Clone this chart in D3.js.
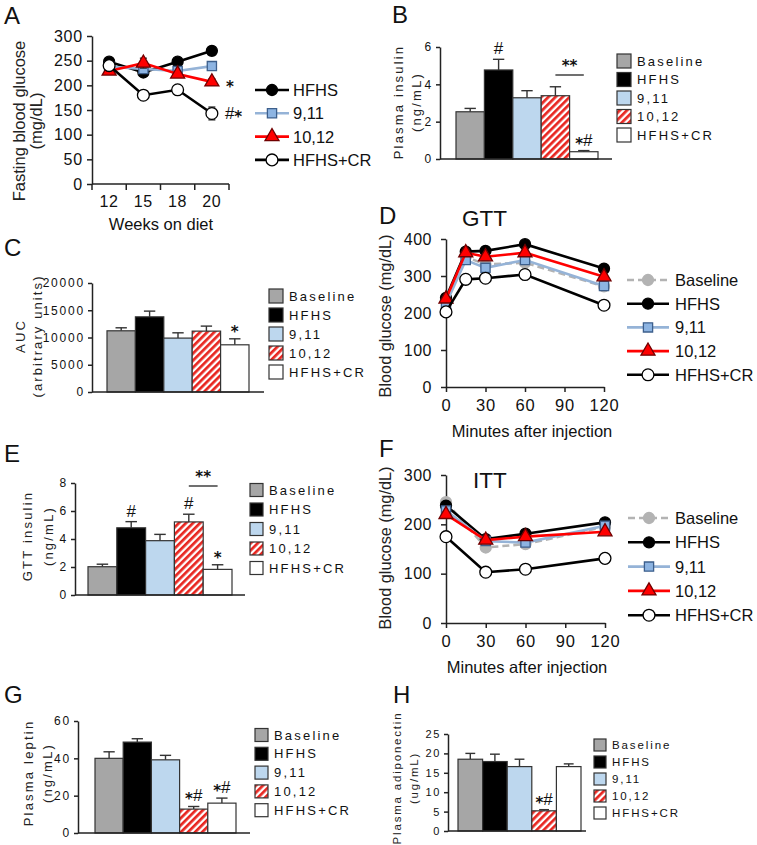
<!DOCTYPE html>
<html><head><meta charset="utf-8">
<script src="https://cdn.jsdelivr.net/npm/d3@7"></script>
<style>
body{margin:0;background:#fff;}
svg{display:block;font-family:"Liberation Sans",Arial,sans-serif;}
</style></head><body>
<svg id="c" width="757" height="845"></svg>
<script>
// ---------------- DATA ----------------
const groups = ["Baseline","HFHS","9,11","10,12","HFHS+CR"];

// Panel A: fasting blood glucose (mg/dL) by week
const weeks = ["12","15","18","20"];
const aTicks = [0,50,100,150,200,250,300];
const aHFHS = [248,226,248,270];
const aHFHSerr = [3,4,4,8];
const a911 = [238,233,229,239];
const a911err = [3,3,3,3];
const a1012 = [229,245,223,207];
const a1012err = [3,10,4,6];
const aCR = [240,180,191,143];
const aCRerr = [3,3,3,13];
const a1012notes = ["","","","*"];
const aCRnotes = ["","","","#*"];

// Panel B: plasma insulin (ng/mL)
const bTicks = [0,2,4,6];
const bMean = [2.53,4.77,3.28,3.39,0.39];
const bErr = [0.18,0.57,0.38,0.48,0.06];
const bNotes = ["","#","","","*#"];

// Panel C: GTT AUC (arbitrary units)
const cTicks = [0,5000,10000,15000,20000];
const cMean = [11230,13790,9890,11170,8660];
const cErr = [550,1050,970,920,1100];
const cNotes = ["","","","","*"];

// Panel D: GTT blood glucose (mg/dL)
const gttMinutes = [0,15,30,60,120];
const dTicksX = [0,30,60,90,120];
const dTicksY = [0,100,200,300,400];
const dBaseline = [236,352,331,336,272];
const dHFHS = [241,366,368,386,320];
const dHFHSerr = [6,8,10,8,8];
const d911 = [225,343,322,343,273];
const d911err = [5,6,8,8,6];
const d1012 = [238,363,352,363,298];
const d1012err = [5,8,8,8,6];
const dCR = [203,291,294,304,221];
const dCRerr = [5,6,8,12,5];

// Panel E: GTT insulin (ng/mL)
const eTicks = [0,2,4,6,8];
const eMean = [2.02,4.8,3.88,5.22,1.83];
const eErr = [0.18,0.44,0.45,0.55,0.33];
const eNotes = ["","#","","#","*"];

// Panel F: ITT blood glucose (mg/dL)
const ittMinutes = [0,30,60,120];
const fTicksX = [0,30,60,90,120];
const fTicksY = [0,100,200,300];
const fBaseline = [245,153,160,195];
const fHFHS = [238,170,181,204];
const fHFHSerr = [5,4,4,5];
const f911 = [228,166,163,197];
const f911err = [5,4,4,5];
const f1012 = [220,168,175,185];
const f1012err = [5,4,4,5];
const fCR = [175,103,109,131];
const fCRerr = [4,4,4,9];

// Panel G: plasma leptin (ng/mL)
const gTicks = [0,20,40,60];
const gMean = [40.0,48.7,39.2,12.8,16.0];
const gErr = [3.5,1.8,2.4,1.4,2.7];
const gNotes = ["","","","*#","*#"];

// Panel H: plasma adiponectin (ug/mL)
const hTicks = [0,5,10,15,20,25];
const hMean = [18.5,17.9,16.6,5.2,16.6];
const hErr = [1.5,1.9,1.9,0.3,0.7];
const hNotes = ["","","","*#",""];

// ---------------- STYLE ----------------
const FONT = "'Liberation Sans', Arial, sans-serif";
const svg = d3.select("#c");
const defs = svg.append("defs");
const pat = defs.append("pattern").attr("id","hatch").attr("patternUnits","userSpaceOnUse")
  .attr("width",5).attr("height",5).attr("patternTransform","rotate(45)");
pat.append("rect").attr("width",5).attr("height",5).attr("fill","#fff");
pat.append("rect").attr("width",2.7).attr("height",5).attr("fill","#e8251f");

const barFill = {"Baseline":"#a6a6a6","HFHS":"#000000","9,11":"#bdd7ee","10,12":"url(#hatch)","HFHS+CR":"#ffffff"};
const lineStyle = {
  "Baseline":{stroke:"#b3b3b3",dash:"7,4",marker:d3.symbolCircle,size:95,fill:"#b3b3b3",mstroke:"#b3b3b3"},
  "HFHS":{stroke:"#000",marker:d3.symbolCircle,size:95,fill:"#000",mstroke:"#000"},
  "9,11":{stroke:"#95b3d7",marker:d3.symbolSquare,size:85,fill:"#8db4e2",mstroke:"#3d5f8c"},
  "10,12":{stroke:"#ff0000",marker:d3.symbolTriangle,size:85,fill:"#ff0000",mstroke:"#700000"},
  "HFHS+CR":{stroke:"#000",marker:d3.symbolCircle,size:110,fill:"#fff",mstroke:"#000"}
};

function panelLetter(t,x,y){
  svg.append("text").attr("x",x).attr("y",y).attr("font-size",24).attr("fill","#111").text(t);
}
function rotTitle(lines, xs, cy, size, ls){
  lines.forEach((l,i)=>svg.append("text")
    .attr("transform",`translate(${xs[i]},${cy}) rotate(-90)`)
    .attr("text-anchor","middle").attr("dy","0.35em")
    .attr("font-size",size).attr("letter-spacing",ls).attr("fill","#222").text(l));
}
function styleAxis(a, fs, ls){
  a.attr("font-family",FONT);
  a.select(".domain").attr("stroke","#222").attr("stroke-width",1.5);
  a.selectAll(".tick line").attr("stroke","#222").attr("stroke-width",1.5);
  a.selectAll(".tick text").attr("font-size",fs).attr("letter-spacing",ls).attr("fill","#111");
}
// significance note: '*' drawn bold and lowered, '#' normal
function note(g, x, y, str, anchor){
  const t = g.append("text").attr("x",x).attr("y",y).attr("text-anchor",anchor||"middle")
    .attr("font-size",17).attr("fill","#111");
  let shifted = false;
  for(const ch of str){
    const ts = t.append("tspan").text(ch);
    if(ch==="*"){
      ts.attr("font-family","'DejaVu Sans',sans-serif").attr("font-weight","bold").attr("font-size",15).attr("dy",shifted?0:3);
      shifted = true;
    } else {
      ts.attr("dy",shifted?-3:0); shifted=false;
    }
  }
}

// ---------------- BAR PANELS ----------------
function barPanel(c, means, errs, notes, ticks){
  const x = d3.scaleBand().domain(groups).range([c.bx0,c.bx1]).padding(0);
  const y = d3.scaleLinear().domain([0,c.ymax]).range([c.y0,c.y1]);
  const g = svg.append("g");
  const bw = x.bandwidth();
  groups.forEach((d,i)=>{
    const cx = x(d)+bw/2, top = y(means[i]+errs[i]);
    g.append("line").attr("x1",cx).attr("x2",cx).attr("y1",y(means[i])).attr("y2",top)
      .attr("stroke","#333").attr("stroke-width",1.4);
    g.append("line").attr("x1",cx-bw*0.2).attr("x2",cx+bw*0.2).attr("y1",top).attr("y2",top)
      .attr("stroke","#333").attr("stroke-width",1.4);
  });
  g.selectAll("rect.bar").data(groups).join("rect").attr("class","bar")
    .attr("x",d=>x(d)).attr("y",(d,i)=>y(means[i]))
    .attr("width",bw).attr("height",(d,i)=>y(0)-y(means[i]))
    .attr("fill",d=>barFill[d]).attr("stroke","#333").attr("stroke-width",1.2);
  groups.forEach((d,i)=>{
    if(notes[i]) note(g, x(d)+bw/2, y(means[i]+errs[i])-5, notes[i]);
  });
  const ya = g.append("g").attr("transform",`translate(${c.ax},0)`)
    .call(d3.axisLeft(y).tickValues(ticks).tickSize(4).tickSizeOuter(0).tickPadding(3).tickFormat(d=>String(d)));
  styleAxis(ya, c.tfs, c.tls);
  g.append("line").attr("x1",c.ax).attr("x2",c.axEnd).attr("y1",y(0)).attr("y2",y(0))
    .attr("stroke","#222").attr("stroke-width",1.5);
  groups.forEach((d,i)=>{
    const ly = c.ly0 + i*c.ldy;
    g.append("rect").attr("x",c.lx).attr("y",ly-c.lb/2).attr("width",c.lb).attr("height",c.lb)
      .attr("fill",barFill[d]).attr("stroke","#333").attr("stroke-width",1.2);
    g.append("text").attr("x",c.lx+c.lb+6).attr("y",ly).attr("dy","0.36em")
      .attr("font-size",c.lfs).attr("letter-spacing",c.lls).attr("fill","#111").text(d);
  });
  return {x,y,g};
}
function sigBar(p, y, label){
  const bw = p.x.bandwidth();
  const x1 = p.x("10,12")+bw/2, x2 = p.x("HFHS+CR")+bw/2;
  p.g.append("line").attr("x1",x1).attr("x2",x2).attr("y1",y).attr("y2",y).attr("stroke","#222").attr("stroke-width",1.3);
  note(p.g,(x1+x2)/2,y-7,label);
}

// ---------------- LINE PANELS ----------------
function drawSeries(g, px, y, xs, vals, errs, key){
  const s = lineStyle[key];
  const pts = xs.map((xv,i)=>({x:px(xv), v:vals[i], e:errs?errs[i]:0}));
  pts.forEach(p=>{
    if(p.e>0){
      g.append("line").attr("x1",p.x).attr("x2",p.x).attr("y1",y(p.v-p.e)).attr("y2",y(p.v+p.e)).attr("stroke","#222").attr("stroke-width",1.3);
      [p.v-p.e,p.v+p.e].forEach(v=>g.append("line").attr("x1",p.x-3.5).attr("x2",p.x+3.5).attr("y1",y(v)).attr("y2",y(v)).attr("stroke","#222").attr("stroke-width",1.3));
    }
  });
  g.append("path").attr("d",d3.line().x(p=>p.x).y(p=>y(p.v))(pts)).attr("fill","none")
    .attr("stroke",s.stroke).attr("stroke-width",2.6).attr("stroke-dasharray",s.dash||null);
  g.selectAll(null).data(pts).join("path")
    .attr("transform",p=>`translate(${p.x},${y(p.v)})`)
    .attr("d",d3.symbol(s.marker,s.size)()).attr("fill",s.fill).attr("stroke",s.mstroke).attr("stroke-width",1.3);
}
function lineLegend(keys, lx0, lx1, tx, ly0, ldy, fs){
  keys.forEach((k,i)=>{
    const s = lineStyle[k], ly = ly0+i*ldy;
    svg.append("line").attr("x1",lx0).attr("x2",lx1).attr("y1",ly).attr("y2",ly)
      .attr("stroke",s.stroke).attr("stroke-width",2.6).attr("stroke-dasharray",s.dash||null);
    svg.append("path").attr("transform",`translate(${(lx0+lx1)/2},${ly})`)
      .attr("d",d3.symbol(s.marker,s.size)()).attr("fill",s.fill).attr("stroke",s.mstroke).attr("stroke-width",1.3);
    svg.append("text").attr("x",tx).attr("y",ly).attr("dy","0.36em").attr("font-size",fs).attr("fill","#111").text(k);
  });
}

// ===== Panel A =====
panelLetter("A",4,24);
{
  const x = d3.scaleBand().domain(weeks).range([92,229]);
  const y = d3.scaleLinear().domain([0,300]).range([184,36]);
  const g = svg.append("g");
  const px = w=>x(w)+x.bandwidth()/2;
  const ya = g.append("g").attr("transform","translate(92,0)")
    .call(d3.axisLeft(y).tickValues(aTicks).tickSize(5).tickSizeOuter(0).tickPadding(4));
  styleAxis(ya,16,0.8);
  const xa = g.append("g").attr("transform","translate(0,184)")
    .call(d3.axisBottom(x).tickSize(0).tickSizeOuter(0).tickPadding(12));
  styleAxis(xa,16,0.8);
  xa.select(".domain").attr("d","M92,0H229");
  weeks.concat(["end"]).forEach((w,i)=>{
    const bx = w==="end" ? x.range()[1] : x(w);
    g.append("line").attr("x1",bx).attr("x2",bx).attr("y1",184).attr("y2",190).attr("stroke","#222").attr("stroke-width",1.5);
  });
  drawSeries(g,px,y,weeks,aHFHS,aHFHSerr,"HFHS");
  drawSeries(g,px,y,weeks,a911,a911err,"9,11");
  drawSeries(g,px,y,weeks,a1012,a1012err,"10,12");
  drawSeries(g,px,y,weeks,aCR,aCRerr,"HFHS+CR");
  weeks.forEach((w,i)=>{
    if(a1012notes[i]) note(g, px(w)+14, y(a1012[i])+7, a1012notes[i], "start");
    if(aCRnotes[i]) note(g, px(w)+13, y(aCR[i])+6, aCRnotes[i], "start");
  });
  rotTitle(["Fasting blood glucose","(mg/dL)"],[19,36],121,16.5,0);
  svg.append("text").attr("x",161).attr("y",230).attr("text-anchor","middle").attr("font-size",16.5).attr("fill","#111").text("Weeks on diet");
  lineLegend(["HFHS","9,11","10,12","HFHS+CR"],255,289,293,90,23.3,16.5);
}

// ===== Panel B =====
panelLetter("B",392,23);
{
  const p = barPanel({ax:440,bx0:456,bx1:598,axEnd:612,y0:159,y1:47,ymax:6,tfs:12,tls:1.8,
    lx:617,ly0:61,ldy:18.5,lb:14,lfs:13,lls:2.2}, bMean,bErr,bNotes,bTicks);
  sigBar(p,75,"**");
  rotTitle(["Plasma insulin","(ng/mL)"],[398,416],102,13,2.2);
}

// ===== Panel C =====
panelLetter("C",4,256);
{
  barPanel({ax:92,bx0:107,bx1:249,axEnd:264,y0:392,y1:283,ymax:20000,tfs:12,tls:1.8,
    lx:269,ly0:296,ldy:19,lb:14,lfs:13,lls:2.2}, cMean,cErr,cNotes,cTicks);
  rotTitle(["AUC","(arbitrary units)"],[20,37],336,13,2.1);
}

// ===== Panel D =====
panelLetter("D",379,224);
{
  const x = d3.scaleLinear().domain([0,120]).range([446,604]);
  const y = d3.scaleLinear().domain([0,400]).range([387,239]);
  const g = svg.append("g");
  const ya = g.append("g").attr("transform","translate(446,0)")
    .call(d3.axisLeft(y).tickValues(dTicksY).tickSize(5).tickSizeOuter(0).tickPadding(9));
  styleAxis(ya,16,0.5);
  const xa = g.append("g").attr("transform","translate(0,387)")
    .call(d3.axisBottom(x).tickValues(dTicksX).tickSize(5).tickSizeOuter(0).tickPadding(7));
  styleAxis(xa,16.5,0.8);
  drawSeries(g,x,y,gttMinutes,dBaseline,null,"Baseline");
  drawSeries(g,x,y,gttMinutes,dHFHS,dHFHSerr,"HFHS");
  drawSeries(g,x,y,gttMinutes,d911,d911err,"9,11");
  drawSeries(g,x,y,gttMinutes,d1012,d1012err,"10,12");
  drawSeries(g,x,y,gttMinutes,dCR,dCRerr,"HFHS+CR");
  svg.append("text").attr("x",462).attr("y",226).attr("font-size",22.5).attr("fill","#111").text("GTT");
  rotTitle(["Blood glucose (mg/dL)"],[385],316,16.3,0);
  svg.append("text").attr("x",532).attr("y",437).attr("text-anchor","middle").attr("font-size",16.5).attr("fill","#111").text("Minutes after injection");
  lineLegend(["Baseline","HFHS","9,11","10,12","HFHS+CR"],627,669,675,280,23.7,16.5);
}

// ===== Panel E =====
panelLetter("E",4,462);
{
  const p = barPanel({ax:75,bx0:88,bx1:232,axEnd:245,y0:595,y1:483,ymax:8,tfs:12,tls:1.8,
    lx:250,ly0:490,ldy:19.5,lb:13,lfs:13,lls:2.2}, eMean,eErr,eNotes,eTicks);
  sigBar(p,486,"**");
  rotTitle(["GTT insulin","(ng/mL)"],[27,48],536,13,2.2);
}

// ===== Panel F =====
panelLetter("F",379,457);
{
  const x = d3.scaleLinear().domain([0,120]).range([446,605]);
  const y = d3.scaleLinear().domain([0,300]).range([623,475]);
  const g = svg.append("g");
  const ya = g.append("g").attr("transform","translate(446,0)")
    .call(d3.axisLeft(y).tickValues(fTicksY).tickSize(5).tickSizeOuter(0).tickPadding(9));
  styleAxis(ya,16,0.5);
  const xa = g.append("g").attr("transform","translate(0,623)")
    .call(d3.axisBottom(x).tickValues(fTicksX).tickSize(5).tickSizeOuter(0).tickPadding(7));
  styleAxis(xa,16.5,0.8);
  drawSeries(g,x,y,ittMinutes,fBaseline,null,"Baseline");
  drawSeries(g,x,y,ittMinutes,fHFHS,fHFHSerr,"HFHS");
  drawSeries(g,x,y,ittMinutes,f911,f911err,"9,11");
  drawSeries(g,x,y,ittMinutes,f1012,f1012err,"10,12");
  drawSeries(g,x,y,ittMinutes,fCR,fCRerr,"HFHS+CR");
  svg.append("text").attr("x",473).attr("y",488).attr("font-size",22.5).attr("fill","#111").text("ITT");
  rotTitle(["Blood glucose (mg/dL)"],[385],548,16.3,0);
  svg.append("text").attr("x",527).attr("y",673).attr("text-anchor","middle").attr("font-size",16.5).attr("fill","#111").text("Minutes after injection");
  lineLegend(["Baseline","HFHS","9,11","10,12","HFHS+CR"],628,670,675,518,24.3,16.5);
}

// ===== Panel G =====
panelLetter("G",4,703);
{
  barPanel({ax:78,bx0:95,bx1:236,axEnd:250,y0:833,y1:721,ymax:60,tfs:12,tls:1.8,
    lx:255,ly0:735,ldy:18.8,lb:13,lfs:13,lls:2.2}, gMean,gErr,gNotes,gTicks);
  rotTitle(["Plasma leptin","(ng/mL)"],[28,47],773,13,2.2);
}

// ===== Panel H =====
panelLetter("H",393,703);
{
  barPanel({ax:448,bx0:458,bx1:581,axEnd:586,y0:831,y1:734,ymax:25,tfs:11,tls:1.6,
    lx:594,ly0:745,ldy:17,lb:12,lfs:11.5,lls:1.9}, hMean,hErr,hNotes,hTicks);
  rotTitle(["Plasma adiponectin","(ug/mL)"],[397,414],778,11.5,1.8);
}
</script>
</body></html>
